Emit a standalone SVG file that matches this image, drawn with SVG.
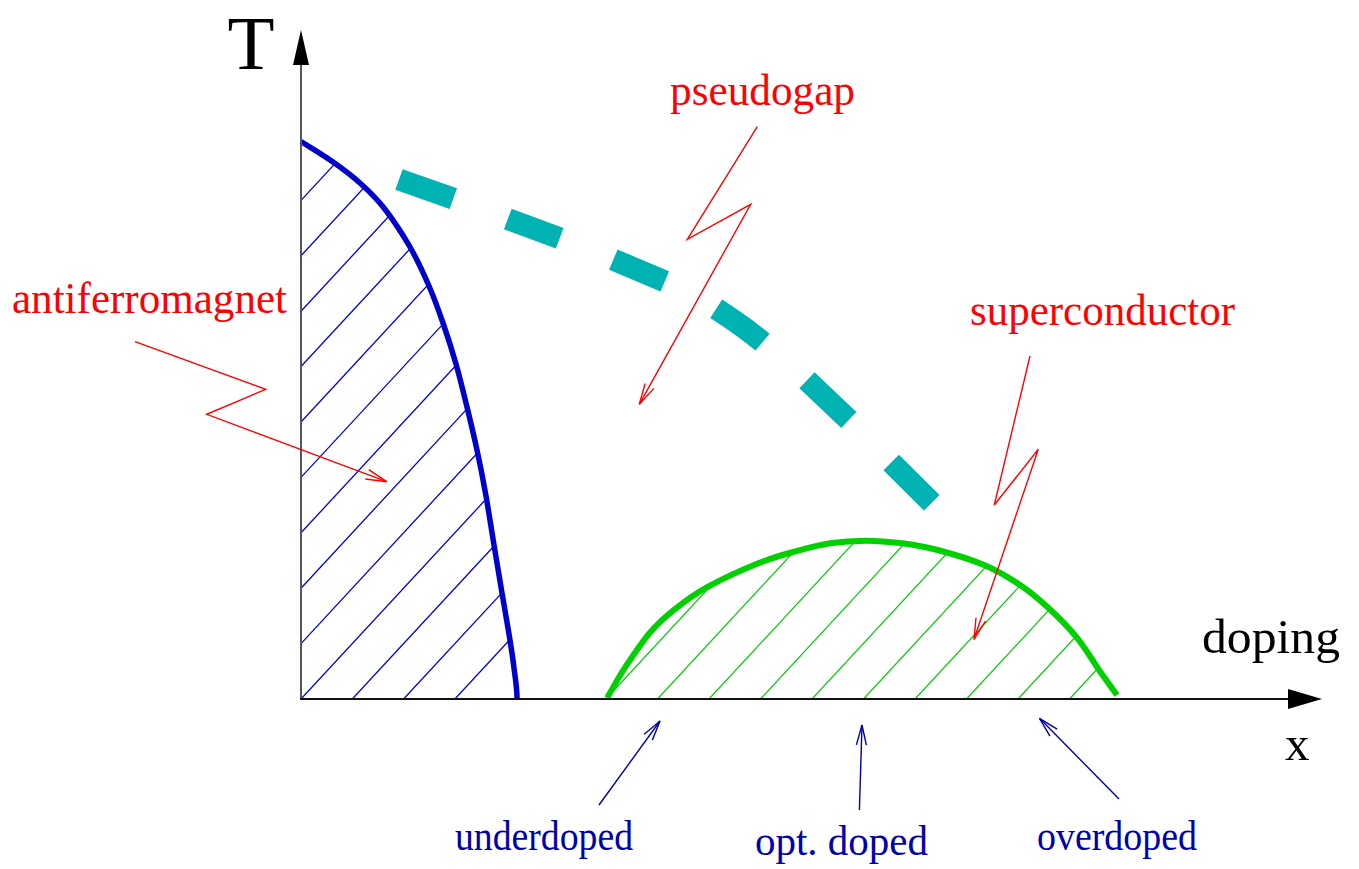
<svg xmlns="http://www.w3.org/2000/svg" width="1359" height="869" viewBox="0 0 1359 869">
<style>
.lbl{font-family:"Liberation Serif","Times New Roman",serif}
.red{fill:#ff0000;font-size:44px}
.blue{fill:#0000aa;font-size:43px}
.blk{fill:#000000}
.hb{stroke:#0000dd;stroke-width:1.3;fill:none}
.hg{stroke:#00cc00;stroke-width:1.2;fill:none}
.ra{stroke:#ff0000;stroke-width:1.4;fill:none;marker-end:url(#mr)}
.ba{stroke:#0000aa;stroke-width:1.4;fill:none;marker-end:url(#mb)}
</style>
<defs>
<marker id="mr" markerUnits="userSpaceOnUse" viewBox="-25 -10 30 20" markerWidth="30" markerHeight="20" refX="0" refY="0" orient="auto" overflow="visible">
<path d="M-21,-5 L0,0 L-21,5" fill="none" stroke="#ff0000" stroke-width="1.4"/>
</marker>
<marker id="mb" markerUnits="userSpaceOnUse" viewBox="-25 -10 30 20" markerWidth="30" markerHeight="20" refX="0" refY="0" orient="auto" overflow="visible">
<path d="M-20,-5 L0,0 L-20,5" fill="none" stroke="#0000aa" stroke-width="1.4"/>
</marker>
<clipPath id="cb">
<path d="M301,141.5 C311.7,148.3 323.2,155.1 333,162 C342.8,168.9 351.5,175.3 360,183 C368.5,190.7 375.7,197.3 384,208 C392.3,218.7 402.5,234 410,247 C417.5,260 423.5,273.3 429,286 C434.5,298.7 438.5,310 443,323 C447.5,336 452,350 456,364 C460,378 463.5,392.7 467,407 C470.5,421.3 473.8,435.2 477,450 C480.2,464.8 483.2,480.2 486,496 C488.8,511.8 491.3,528.8 494,545 C496.7,561.2 499.4,577.7 502,593 C504.6,608.3 507.5,624.5 509.5,637 C511.5,649.5 512.8,657.8 514,668 C515.3,678.2 517,688 517,698 L517,699 L301,699 Z"/>
</clipPath>
<clipPath id="cg">
<path d="M607,698 C613.2,687.6 618.3,677.8 625.6,666.7 C632.9,655.6 642.3,641.4 650.7,631.7 C659.1,622 666.3,615.8 675.9,608.3 C685.5,600.8 694.4,594.2 708.1,586.7 C721.8,579.2 743.9,569.1 758.3,563.3 C772.7,557.5 782.2,555 794.2,551.7 C806.2,548.4 818,545.1 830,543.3 C842,541.5 853.9,540.7 865.9,540.7 C877.9,540.7 889.9,541.8 901.8,543.3 C913.7,544.8 923.9,546.4 937.6,550 C951.3,553.6 970.4,559.2 984.2,565 C998,570.8 1009.3,577.8 1020.1,585 C1030.9,592.2 1039.2,599.4 1048.8,608.3 C1058.4,617.2 1069.1,628 1077.5,638.3 C1085.9,648.6 1092.4,660.6 1099,670 C1105.6,679.4 1111,686.7 1117,695 L1119,699 L606,699 Z"/>
</clipPath>
</defs>
<rect x="0" y="0" width="1359" height="869" fill="#ffffff"/>

<g id="antiferromagnet-region">
<g clip-path="url(#cb)" class="hb">
<path d="M-160.7,699 l560,-604.8 M-109.4,699 l560,-604.8 M-58.1,699 l560,-604.8 M-6.8,699 l560,-604.8 M44.5,699 l560,-604.8 M95.8,699 l560,-604.8 M147.1,699 l560,-604.8 M198.4,699 l560,-604.8 M249.7,699 l560,-604.8 M301,699 l560,-604.8 M352.3,699 l560,-604.8 M403.6,699 l560,-604.8 M454.9,699 l560,-604.8"/>
</g>
<path d="M301,141.5 C311.7,148.3 323.2,155.1 333,162 C342.8,168.9 351.5,175.3 360,183 C368.5,190.7 375.7,197.3 384,208 C392.3,218.7 402.5,234 410,247 C417.5,260 423.5,273.3 429,286 C434.5,298.7 438.5,310 443,323 C447.5,336 452,350 456,364 C460,378 463.5,392.7 467,407 C470.5,421.3 473.8,435.2 477,450 C480.2,464.8 483.2,480.2 486,496 C488.8,511.8 491.3,528.8 494,545 C496.7,561.2 499.4,577.7 502,593 C504.6,608.3 507.5,624.5 509.5,637 C511.5,649.5 512.8,657.8 514,668 C515.3,678.2 517,688 517,698" fill="none" stroke="#0000cc" stroke-width="5.5"/>
</g>

<g id="superconductor-region">
<g clip-path="url(#cg)" class="hg">
<path d="M606,699 l170,-183.6 M657.5,699 l170,-183.6 M709,699 l170,-183.6 M760.5,699 l170,-183.6 M812,699 l170,-183.6 M863.5,699 l170,-183.6 M915,699 l170,-183.6 M966.5,699 l170,-183.6 M1018,699 l170,-183.6 M1069.5,699 l170,-183.6"/>
</g>
<path d="M607,698 C613.2,687.6 618.3,677.8 625.6,666.7 C632.9,655.6 642.3,641.4 650.7,631.7 C659.1,622 666.3,615.8 675.9,608.3 C685.5,600.8 694.4,594.2 708.1,586.7 C721.8,579.2 743.9,569.1 758.3,563.3 C772.7,557.5 782.2,555 794.2,551.7 C806.2,548.4 818,545.1 830,543.3 C842,541.5 853.9,540.7 865.9,540.7 C877.9,540.7 889.9,541.8 901.8,543.3 C913.7,544.8 923.9,546.4 937.6,550 C951.3,553.6 970.4,559.2 984.2,565 C998,570.8 1009.3,577.8 1020.1,585 C1030.9,592.2 1039.2,599.4 1048.8,608.3 C1058.4,617.2 1069.1,628 1077.5,638.3 C1085.9,648.6 1092.4,660.6 1099,670 C1105.6,679.4 1111,686.7 1117,695" fill="none" stroke="#00d000" stroke-width="6"/>
</g>

<g id="pseudogap-line">
<path d="M399,179.5 L453.3,198.7 M507.8,219 L559.7,238.3 M613.3,259.7 L664.8,281.3 M716.2,308.8 C732,319 748,330 762.5,342.2 M807,380.2 L848.8,420 M891.2,462.5 L931.7,502.8" fill="none" stroke="#00b2b2" stroke-width="22" stroke-linecap="butt"/>
</g>

<g id="axes">
<line x1="301" y1="700" x2="301" y2="62" stroke="#555555" stroke-width="2"/>
<polygon points="301,30 293,65 309,65" fill="#000000"/>
<line x1="300" y1="699" x2="1292" y2="699" stroke="#111111" stroke-width="2"/>
<polygon points="1322,699 1288,689 1288,709" fill="#000000"/>
</g>

<g id="label-T"><text class="lbl blk" x="251" y="69" font-size="77" text-anchor="middle">T</text></g>
<g id="label-doping"><text class="lbl blk" x="1202" y="653" font-size="49" textLength="138" lengthAdjust="spacingAndGlyphs">doping</text></g>
<g id="label-x"><text class="lbl blk" x="1285" y="760" font-size="49">x</text></g>

<g id="label-antiferromagnet"><text class="lbl red" x="12" y="313" textLength="275" lengthAdjust="spacingAndGlyphs">antiferromagnet</text></g>
<g id="label-pseudogap"><text class="lbl red" x="670" y="105" textLength="185" lengthAdjust="spacingAndGlyphs">pseudogap</text></g>
<g id="label-superconductor"><text class="lbl red" x="970" y="325" textLength="265" lengthAdjust="spacingAndGlyphs">superconductor</text></g>
<g id="label-underdoped"><text class="lbl blue" x="455" y="850" textLength="178" lengthAdjust="spacingAndGlyphs">underdoped</text></g>
<g id="label-opt-doped"><text class="lbl blue" x="755" y="855" textLength="173" lengthAdjust="spacingAndGlyphs">opt. doped</text></g>
<g id="label-overdoped"><text class="lbl blue" x="1037" y="850" textLength="160" lengthAdjust="spacingAndGlyphs">overdoped</text></g>

<g id="connectors">
<path class="ra" d="M135,341.7 L265.7,389.3 L206.7,414.3 L386.7,481.7"/>
<path class="ra" d="M757.3,126.7 L687.3,239.3 L750.7,204.3 L639.3,404.3"/>
<path class="ra" d="M1030,356 L994.3,505 L1038.3,449.3 L974,639.3"/>
<path class="ba" d="M599,805 L660,721"/>
<path class="ba" d="M859.4,810 L862,725"/>
<path class="ba" d="M1119,799 L1039.5,718.3"/>
</g>
</svg>
